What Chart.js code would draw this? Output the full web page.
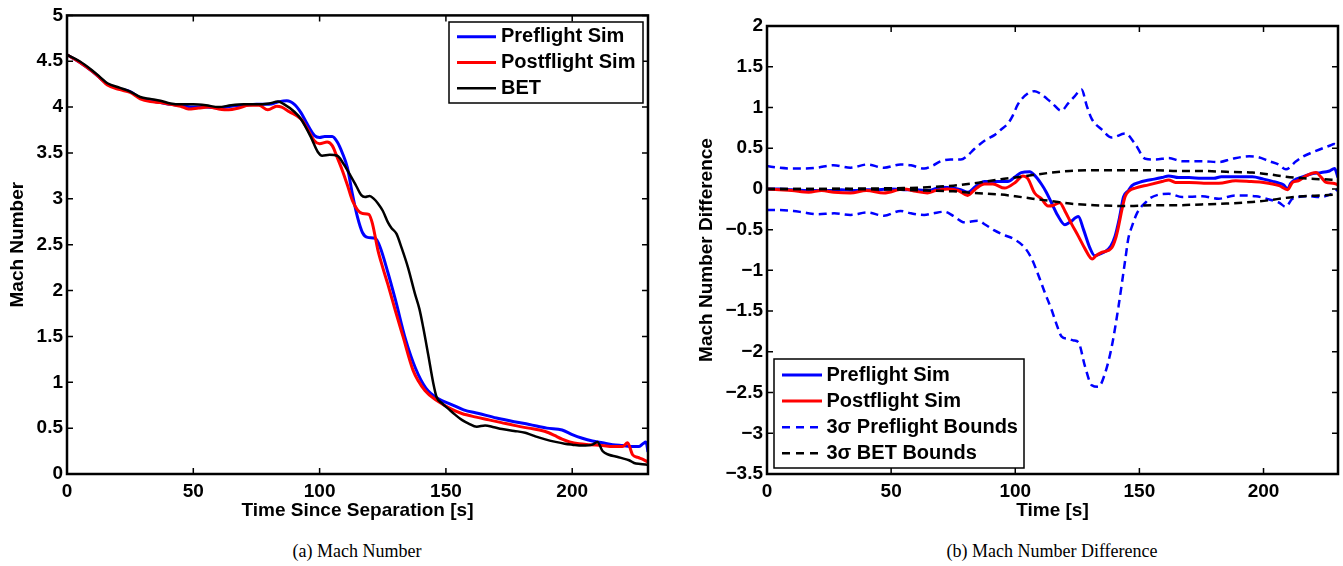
<!DOCTYPE html>
<html><head><meta charset="utf-8">
<script src="https://cdn.jsdelivr.net/npm/chart.js@4.4.0/dist/chart.umd.min.js"></script>
<style>
html,body{margin:0;padding:0;background:#fff;width:1343px;height:566px;overflow:hidden;position:relative}
#c1{position:absolute;left:0;top:0}
#c2{position:absolute;left:680px;top:0}
.cap{position:absolute;top:540px;font-family:"Liberation Serif","Times New Roman",serif;font-size:18px;line-height:22px;color:#000;white-space:nowrap;transform:translateX(-50%)}
</style></head><body>
<canvas id="c1" width="660" height="530"></canvas>
<canvas id="c2" width="663" height="530"></canvas>
<div class="cap" style="left:357px">(a) Mach Number</div>
<div class="cap" style="left:1052px">(b) Mach Number Difference</div>
<script>
// ---------- Data: (a) Mach Number ----------
const preT = [0,5,10,13,16,21,25,29,33,37,41,45,50,55,60,65,70,75,80,84,87,90,92.6,95,98,100,102,105,107,109,111,113,115,117,119,122,124,127,130,134,138,142,147,152,157,163,170,177,183,190,196,200,204,208,212,216,220,224,226.5,228,229.2,230];
const preM = [4.57,4.49,4.39,4.32,4.25,4.2,4.17,4.1,4.07,4.05,4.03,4.02,4.0,4.0,3.99,4.01,4.02,4.03,4.03,4.06,4.07,4.03,3.94,3.82,3.69,3.67,3.68,3.68,3.62,3.5,3.34,3.05,2.8,2.63,2.58,2.57,2.47,2.2,1.9,1.47,1.15,0.94,0.82,0.76,0.70,0.66,0.61,0.57,0.54,0.50,0.48,0.43,0.39,0.36,0.34,0.32,0.31,0.30,0.30,0.33,0.35,0.24];

const postT = [0,5,10,13,16,21,25,29,33,37,41,45,48,52,56,60,64,68,72,76,79.5,83,85,88,92.6,95,98,100,103,105,107,109,111,113,115,117,119.5,121,123,125,127,130,133,137,141.7,147,152,156.3,162,167,172,177,182.8,187,190.7,193,196,199,202.7,207,212,216,219.9,221.9,223.9,226,228,230];
const postM = [4.57,4.49,4.39,4.32,4.24,4.19,4.16,4.09,4.06,4.05,4.03,4.01,3.98,3.99,4.0,3.98,3.97,3.99,4.02,4.02,3.97,4.01,4.0,3.95,3.87,3.77,3.63,3.6,3.62,3.58,3.45,3.31,3.15,2.98,2.88,2.84,2.83,2.72,2.45,2.25,2.07,1.78,1.5,1.13,0.91,0.79,0.71,0.66,0.62,0.59,0.56,0.53,0.50,0.48,0.45,0.42,0.38,0.35,0.33,0.32,0.31,0.30,0.30,0.34,0.21,0.18,0.16,0.13];

const betT = [0,5,10,13,16,21,25,29,33,37,41,45,50,55,60,65,70,75,80,83.5,86,90,92.6,96.6,99.3,101,104,107,109.5,112.5,114.5,116.5,118,119.8,121.5,123.1,125,127.1,128.5,130.4,132.4,135,137.7,139.5,141,143,145,146.3,148.5,151,153.5,156.3,159,162.2,165.5,169,172.2,177,181.4,183.5,185.4,189,193.4,197,200,204,208,210,212,214.5,217.2,220,222.5,224.5,227,230];
const betM = [4.57,4.5,4.4,4.33,4.26,4.21,4.17,4.11,4.09,4.07,4.04,4.03,4.03,4.02,4.0,4.02,4.03,4.03,4.04,4.06,4.03,3.95,3.87,3.67,3.51,3.47,3.48,3.47,3.38,3.24,3.14,3.04,3.02,3.03,3.0,2.95,2.87,2.74,2.68,2.62,2.47,2.25,1.97,1.8,1.6,1.3,0.99,0.84,0.77,0.71,0.65,0.59,0.55,0.515,0.53,0.51,0.49,0.47,0.45,0.43,0.41,0.38,0.35,0.33,0.32,0.31,0.32,0.35,0.25,0.21,0.19,0.17,0.15,0.12,0.11,0.1];

// ---------- Data: (b) Mach Number Difference ----------
const preDT = [0,5,10,15,20,25,30,35,40,45,50,55,60,65,70,75,78,81,84,87.6,92,97,100,102.4,105.8,108,110.5,112.5,114.6,117,120,122,125.4,127.5,130,132,134,136.2,138.5,140.2,142,143.6,145.6,147,150,152.4,156,159.1,161.8,165.8,170,175,180,183,188,195.5,200,204,206.3,208,209.7,211,213.1,216,219.8,223,226.6,228.6,230];
const preDV = [0,0,-0.01,-0.02,-0.02,-0.02,-0.01,-0.02,-0.01,-0.01,0,-0.01,-0.01,-0.02,0.02,0.01,-0.01,-0.04,0.03,0.09,0.09,0.09,0.15,0.2,0.21,0.16,0.06,-0.04,-0.17,-0.32,-0.44,-0.41,-0.34,-0.5,-0.72,-0.82,-0.8,-0.77,-0.7,-0.58,-0.35,-0.1,-0.02,0.04,0.08,0.1,0.12,0.14,0.16,0.14,0.14,0.13,0.13,0.15,0.15,0.15,0.12,0.09,0.07,0.05,0.0,0.07,0.12,0.15,0.19,0.2,0.22,0.25,0.14];

const postDT = [0,5,10,16.8,22,27,33.6,40,47.1,55,60,64.6,68,72.7,77,80.8,84,87.6,91,95.7,100,103.1,105,107.8,110.5,113.2,115.5,117.9,120,122.5,125.4,128,131,132.5,134.8,138.9,140.5,141.6,143,144.3,146,148.3,153.7,159.1,161.8,164.5,170,176,182,188.8,195,200,206.3,209.7,211.7,214,217.1,221.2,223,225.2,228,230];
const postDV = [0,-0.01,-0.02,-0.04,-0.02,-0.04,-0.05,-0.02,-0.05,0,-0.03,-0.05,-0.02,0,-0.02,-0.08,0.0,0.06,0.06,0.01,0.08,0.16,0.13,-0.05,-0.12,-0.21,-0.2,-0.17,-0.27,-0.42,-0.58,-0.73,-0.86,-0.82,-0.78,-0.72,-0.6,-0.46,-0.25,-0.09,-0.02,0.01,0.05,0.09,0.11,0.08,0.08,0.07,0.07,0.1,0.09,0.08,0.04,-0.01,0.08,0.1,0.16,0.2,0.15,0.08,0.07,0.05];

const ubT = [0,5,10.6,15,20,26.8,33.6,40.4,47.1,53.8,58,63.3,67,70,74,78.1,80.5,83.5,88,91.6,94.3,97,99,101.1,105,107.8,109.5,114.6,118.6,121.3,124,126.7,128.8,130.8,134.8,138.9,144.3,148.3,152.4,156.4,161.8,167.2,175.3,182,187.4,194.2,198,202.3,206,209,213.1,216,219.8,226.6,228.5,230];
const ubV = [0.28,0.26,0.25,0.25,0.26,0.29,0.26,0.3,0.26,0.3,0.29,0.25,0.29,0.34,0.36,0.36,0.4,0.49,0.6,0.66,0.73,0.8,0.9,1.04,1.17,1.2,1.18,1.06,0.96,1.05,1.14,1.22,1.02,0.86,0.73,0.63,0.68,0.55,0.37,0.36,0.38,0.34,0.34,0.33,0.37,0.4,0.39,0.34,0.3,0.24,0.34,0.4,0.45,0.53,0.55,0.52];

const lbT = [0,5,10.6,15,20,27,33.6,40.4,47.1,53.8,58,63.3,67,71.4,75,79.5,84.9,88,91.6,95,99.7,103.8,106.5,109.2,112,114.6,116.5,118.6,121.3,123.5,125.4,128.1,130.8,133.5,136.2,138.9,141.6,144.3,145.6,147,149,151,152.4,154,157.8,161.8,167.2,175.3,182,188.8,196.9,202.3,206.3,209,211.7,218.5,222.6,228,230];
const lbV = [-0.26,-0.26,-0.27,-0.29,-0.31,-0.3,-0.32,-0.29,-0.33,-0.27,-0.3,-0.32,-0.3,-0.28,-0.33,-0.41,-0.39,-0.44,-0.51,-0.56,-0.62,-0.72,-0.85,-1.05,-1.28,-1.48,-1.65,-1.81,-1.84,-1.86,-1.88,-2.18,-2.41,-2.43,-2.26,-1.93,-1.44,-0.87,-0.6,-0.46,-0.3,-0.21,-0.17,-0.12,-0.07,-0.06,-0.1,-0.09,-0.12,-0.08,-0.09,-0.13,-0.17,-0.22,-0.12,-0.09,-0.1,-0.05,0.0];

const betBT = [0,20,40,55,64.6,75,83.5,94.3,100,107,114.6,122,132,145,155,165,175,185,195.5,202,209,216,222.6,230];
const betUp = [0,0,0.005,0.01,0.02,0.04,0.07,0.12,0.14,0.17,0.2,0.22,0.23,0.23,0.23,0.22,0.22,0.21,0.2,0.18,0.15,0.13,0.12,0.11];
const betLo = [0,0,-0.005,-0.01,-0.02,-0.03,-0.05,-0.07,-0.09,-0.12,-0.15,-0.18,-0.2,-0.21,-0.2,-0.2,-0.19,-0.18,-0.16,-0.14,-0.11,-0.09,-0.08,-0.07];

// ---------- Tick values ----------
const xTicks = [0,50,100,150,200];
const yTicksA = [0,0.5,1,1.5,2,2.5,3,3.5,4,4.5,5];
const yTicksB = [-3.5,-3,-2.5,-2,-1.5,-1,-0.5,0,0.5,1,1.5,2];

const pts = (t, v) => t.map((x, i) => ({x: x, y: v[i]}));
const FONT = '"Liberation Sans", Arial, sans-serif';
Chart.defaults.font.family = FONT;
Chart.defaults.color = '#000';
const fmt = v => String(+(+v).toFixed(2)).replace('-', '\u2212');

const frameTicks = {
  id: 'frameTicks',
  afterDatasetsDraw(chart, args, o) {
    const {ctx, chartArea: a, scales} = chart;
    ctx.save();
    ctx.strokeStyle = '#000';
    ctx.lineWidth = 1.5;
    const L = 6;
    ctx.beginPath();
    scales.x.ticks.forEach(t => {
      const px = scales.x.getPixelForValue(t.value);
      ctx.moveTo(px, a.bottom); ctx.lineTo(px, a.bottom - L);
      ctx.moveTo(px, a.top); ctx.lineTo(px, a.top + L);
    });
    scales.y.ticks.forEach(t => {
      const py = scales.y.getPixelForValue(t.value);
      ctx.moveTo(a.left, py); ctx.lineTo(a.left + L, py);
      ctx.moveTo(a.right, py); ctx.lineTo(a.right - L, py);
    });
    ctx.stroke();
    ctx.lineWidth = 2.5;
    ctx.strokeRect(a.left, a.top, a.right - a.left, a.bottom - a.top);
    ctx.restore();
  }
};

const boxLegend = {
  id: 'boxLegend',
  afterDraw(chart, args, o) {
    const ctx = chart.ctx;
    ctx.save();
    ctx.fillStyle = '#fff';
    ctx.fillRect(o.x, o.y, o.w, o.h);
    ctx.strokeStyle = '#000'; ctx.lineWidth = 1.5;
    ctx.strokeRect(o.x, o.y, o.w, o.h);
    ctx.font = 'bold 20px ' + FONT;
    ctx.textBaseline = 'middle';
    let i = 0;
    chart.data.datasets.forEach(ds => {
      if (ds.inLegend === false) return;
      const cy = o.y + o.first + i * o.rowH;
      ctx.beginPath();
      ctx.strokeStyle = ds.borderColor;
      ctx.lineWidth = ds.borderWidth;
      ctx.setLineDash(ds.borderDash && ds.borderDash.length ? [8, 6] : []);
      ctx.moveTo(o.x + o.l0, cy); ctx.lineTo(o.x + o.l1, cy);
      ctx.stroke();
      ctx.setLineDash([]);
      ctx.fillStyle = '#000';
      ctx.fillText(ds.label, o.x + o.tx, cy);
      i++;
    });
    ctx.restore();
  }
};

function line(label, t, v, color, width, dash, order, inLegend) {
  return {
    label: label, data: pts(t, v), borderColor: color, backgroundColor: color,
    borderWidth: width, borderDash: dash || [], pointRadius: 0, fill: false,
    cubicInterpolationMode: 'monotone', order: order, inLegend: inLegend !== false
  };
}

function opts(cfg) {
  const tickFont = {size: 19, weight: 'bold'};
  return {
    responsive: false, animation: false, devicePixelRatio: 1,
    layout: {padding: cfg.pad},
    plugins: {legend: {display: false}, tooltip: {enabled: false}, boxLegend: cfg.legend},
    scales: {
      x: {
        type: 'linear', min: 0, max: 230,
        afterBuildTicks: s => { s.ticks = xTicks.map(v => ({value: v})); },
        afterFit: s => { s.height = 56; },
        grid: {display: false, drawTicks: false}, border: {display: false},
        ticks: {padding: 6, font: tickFont, color: '#000', callback: v => fmt(v), maxRotation: 0},
        title: {display: true, text: cfg.xTitle, color: '#000', font: {size: 19, weight: 'bold'}, padding: {top: 0, bottom: 7.6}}
      },
      y: {
        type: 'linear', min: cfg.ymin, max: cfg.ymax,
        afterBuildTicks: s => { s.ticks = cfg.yTicks.map(v => ({value: v})); },
        afterFit: s => { s.width = cfg.yWidth; },
        grid: {display: false, drawTicks: false}, border: {display: false},
        ticks: {padding: 4, font: tickFont, color: '#000', callback: v => fmt(v)},
        title: {display: true, text: cfg.yTitle, color: '#000', font: {size: 19, weight: 'bold'}, padding: {top: cfg.yTitlePad, bottom: 0}}
      }
    }
  };
}

new Chart(document.getElementById('c1'), {
  type: 'line',
  data: {datasets: [
    line('Preflight Sim', preT, preM, '#0000ff', 3, null, 3),
    line('Postflight Sim', postT, postM, '#ff0000', 3, null, 2),
    line('BET', betT, betM, '#000000', 2.5, null, 1)
  ]},
  options: opts({pad: {left: 0, right: 12, top: 15, bottom: 0}, yWidth: 67, yTitlePad: 6.6,
    ymin: 0, ymax: 5, yTicks: yTicksA, xTitle: 'Time Since Separation [s]', yTitle: 'Mach Number',
    legend: {x: 449, y: 22, w: 194, h: 81, first: 14.7, rowH: 25.8, l0: 8, l1: 47, tx: 52}}),
  plugins: [frameTicks, boxLegend]
});

new Chart(document.getElementById('c2'), {
  type: 'line',
  data: {datasets: [
    line('Preflight Sim', preDT, preDV, '#0000ff', 3, null, 6),
    line('Postflight Sim', postDT, postDV, '#ff0000', 3, null, 5),
    line('3\u03c3 Preflight Bounds', ubT, ubV, '#0000ff', 2.5, [8, 5], 4),
    line('3\u03c3 Preflight Bounds', lbT, lbV, '#0000ff', 2.5, [8, 5], 3, false),
    line('3\u03c3 BET Bounds', betBT, betUp, '#000000', 2.5, [8, 5], 2),
    line('3\u03c3 BET Bounds', betBT, betLo, '#000000', 2.5, [8, 5], 1, false)
  ]},
  options: opts({pad: {left: 0, right: 5, top: 26, bottom: 0}, yWidth: 87, yTitlePad: 15.6,
    ymin: -3.5, ymax: 2, yTicks: yTicksB, xTitle: 'Time [s]', yTitle: 'Mach Number Difference',
    legend: {x: 94, y: 359, w: 250, h: 109, first: 16, rowH: 26.1, l0: 8, l1: 48, tx: 52.5}}),
  plugins: [frameTicks, boxLegend]
});
</script>
</body></html>
